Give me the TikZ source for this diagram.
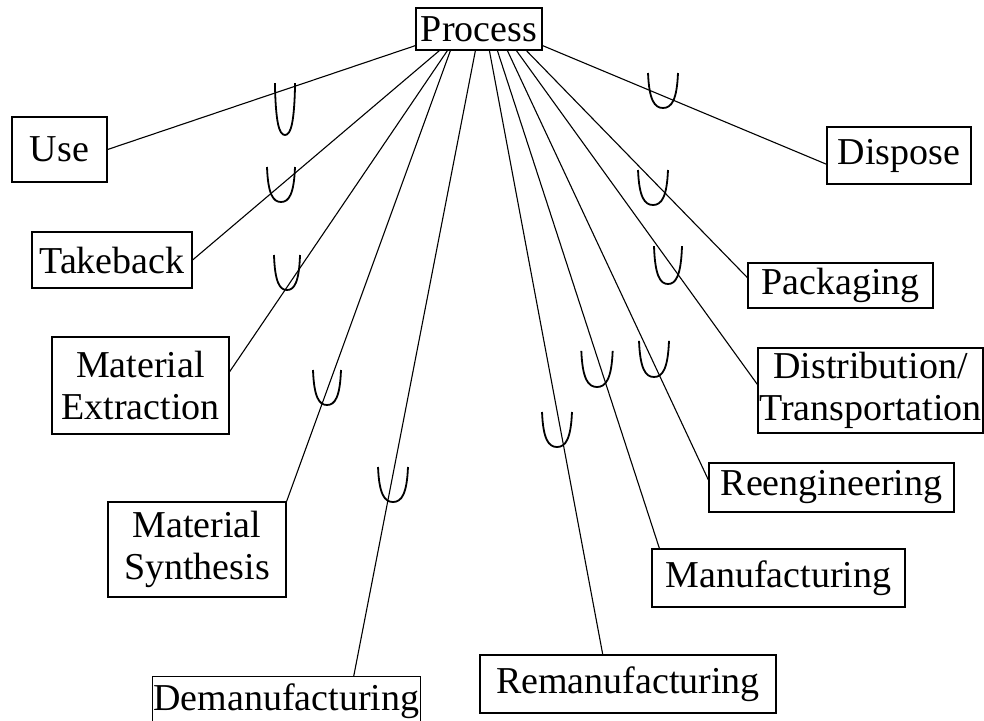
\documentclass[tikz,border=0pt]{standalone}
\usepackage{fontspec}
\setmainfont{Liberation Serif}
\usetikzlibrary{calc}
\begin{document}
\begin{tikzpicture}[x=1pt,y=-1pt,
  box/.style={draw, line width=1.2pt, inner sep=1pt, align=center,
              font=\fontsize{38}{42}\selectfont},
  link/.style={line width=1.1pt},
  cupmark/.pic={\draw[line width=1.8pt] (-14,-35) .. controls (-13,-8) and (-8,0) .. (0,0)
                .. controls (8,0) and (13,-8) .. (14,-35);}
]
\useasboundingbox (0,0) rectangle (984,720);

% boxes
\node[box, minimum width=126, minimum height=42] (proc)   at (479,29)    {Process};
\node[box, minimum width=95,  minimum height=65] (use)    at (59.5,149.5) {Use};
\node[box, minimum width=160, minimum height=56] (take)   at (112,260)   {Takeback};
\node[box, minimum width=177, minimum height=97] (matex)  at (140.5,385.5) {Material\\Extraction};
\node[box, minimum width=178, minimum height=95] (matsyn) at (197,549.5) {Material\\Synthesis};
\node[box, minimum width=263, minimum height=50] (deman)  at (286.5,701.5)  {Demanufacturing};
\node[box, minimum width=296, minimum height=58] (reman)  at (628,684)   {Remanufacturing};
\node[box, minimum width=253, minimum height=58] (manuf)  at (778.5,578) {Manufacturing};
\node[box, minimum width=245, minimum height=49] (reeng)  at (831.5,487.5) {Reengineering};
\node[box, minimum width=225, minimum height=85] (distr)  at (870.5,390.5) {Distribution/\\Transportation};
\node[box, minimum width=185, minimum height=45] (pack)   at (840.5,285.5) {Packaging};
\node[box, minimum width=144, minimum height=57] (disp)   at (899,155.5) {Dispose};

% connectors
\draw[link] ($(proc.south west)+(0,-5)$) -- (use.east);
\draw[link] ($(proc.south east)+(0,-5)$) -- ($(disp.north west)!0.65!(disp.south west)$);
\draw[link] ($(proc.south west)+(24,0)$) -- (take.east);
\draw[link] ($(proc.south west)+(32,0)$) -- ($(matex.north east)!0.36!(matex.south east)$);
\draw[link] ($(proc.south west)+(35,0)$) -- (matsyn.north east);
\draw[link] ($(proc.south west)+(60,0)$) -- ($(deman.north west)!0.75!(deman.north east)$);
\draw[link] ($(proc.south west)+(74,0)$) -- ($(reman.north west)!0.415!(reman.north east)$);
\draw[link] ($(proc.south west)+(82,0)$) -- ($(manuf.north west)+(8,0)$);
\draw[link] ($(proc.south west)+(92,0)$) -- ($(reeng.north west)!0.35!(reeng.south west)$);
\draw[link] ($(proc.south west)+(101,0)$) -- ($(distr.north west)!0.43!(distr.south west)$);
\draw[link] ($(proc.south west)+(111,0)$) -- ($(pack.north west)!0.33!(pack.south west)$);

% cup marks
\pic[xscale=0.72, yscale=1.48] at (285,135) {cupmark};
\pic at (281,202) {cupmark};
\pic[xscale=0.93] at (287,290) {cupmark};
\pic at (327,405) {cupmark};
\pic[xscale=1.07] at (393,502) {cupmark};
\pic[xscale=1.07] at (557,447) {cupmark};
\pic[xscale=1.12, yscale=1.03] at (597,387) {cupmark};
\pic[xscale=1.07, yscale=1.03] at (654,377) {cupmark};
\pic[yscale=1.08] at (668,284) {cupmark};
\pic[xscale=1.07] at (653,205) {cupmark};
\pic[xscale=1.07] at (663,108) {cupmark};
\end{tikzpicture}
\end{document}
